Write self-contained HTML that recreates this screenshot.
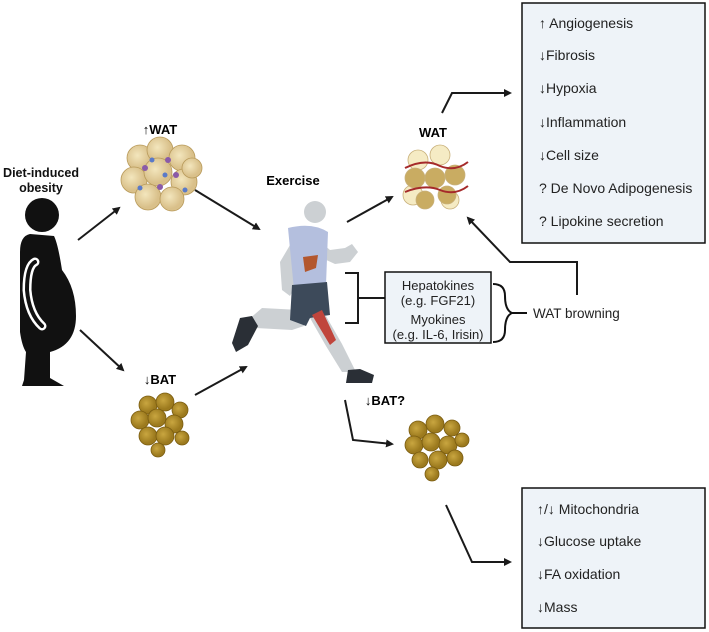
<!DOCTYPE html>
<html><head><meta charset="utf-8"><style>
body{margin:0;background:#fff;}
svg{display:block;font-family:"Liberation Sans",sans-serif;}
</style></head><body>
<svg width="709" height="632" viewBox="0 0 709 632" xmlns="http://www.w3.org/2000/svg">
<defs>
<marker id="ah" markerWidth="8" markerHeight="8" refX="6" refY="4" orient="auto" markerUnits="userSpaceOnUse"><path d="M0,0 L8,4 L0,8 z" fill="#1a1a1a"/></marker>
<radialGradient id="wg" cx="0.4" cy="0.4"><stop offset="0" stop-color="#f3e6bd"/><stop offset="1" stop-color="#d9c08a"/></radialGradient>
<radialGradient id="bg" cx="0.4" cy="0.4"><stop offset="0" stop-color="#c9a640"/><stop offset="1" stop-color="#9c7a1e"/></radialGradient>
</defs>
<!-- labels -->
<text x="41" y="177" font-size="12.5" font-weight="bold" text-anchor="middle" fill="#111" textLength="76" lengthAdjust="spacingAndGlyphs">Diet-induced</text>
<text x="41" y="192" font-size="12.5" font-weight="bold" text-anchor="middle" fill="#111">obesity</text>
<text x="160" y="134" font-size="13" font-weight="bold" text-anchor="middle">↑WAT</text>
<text x="160" y="384" font-size="13" font-weight="bold" text-anchor="middle">↓BAT</text>
<text x="293" y="185" font-size="13" font-weight="bold" text-anchor="middle">Exercise</text>
<text x="433" y="137" font-size="13" font-weight="bold" text-anchor="middle">WAT</text>
<text x="385" y="405" font-size="13" font-weight="bold" text-anchor="middle">↓BAT?</text>
<!-- person -->
<g fill="#111">
<circle cx="42" cy="215" r="17"/>
<path d="M30,234 Q20,236 20,252 L20,332 Q22,346 26,352 L24,380 L22,386 L64,386 L50,378 L50,352 Q76,345 76,316 Q76,288 62,270 Q58,244 54,236 Z"/>
</g>
<path d="M35,262 Q27,266 27,290 Q29,314 42,326" stroke="#fff" stroke-width="9" fill="none" stroke-linecap="round"/>
<path d="M35,262 Q27,266 27,290 Q29,314 42,326" stroke="#111" stroke-width="4" fill="none" stroke-linecap="round"/>
<!-- WAT cluster -->
<g stroke="#b89a5a" stroke-width="0.8" fill="url(#wg)">
<circle cx="140" cy="158" r="13"/><circle cx="160" cy="150" r="13"/><circle cx="182" cy="158" r="13"/>
<circle cx="134" cy="180" r="13"/><circle cx="158" cy="172" r="14"/><circle cx="184" cy="182" r="13"/>
<circle cx="148" cy="197" r="13"/><circle cx="172" cy="199" r="12"/><circle cx="192" cy="168" r="10"/>
</g>
<g fill="#8a5aa8"><circle cx="145" cy="168" r="3"/><circle cx="168" cy="160" r="3"/><circle cx="160" cy="187" r="3"/><circle cx="176" cy="175" r="3"/></g>
<g fill="#5a7ac8"><circle cx="152" cy="160" r="2.5"/><circle cx="140" cy="188" r="2.5"/><circle cx="185" cy="190" r="2.5"/><circle cx="165" cy="175" r="2.5"/></g>
<!-- BAT cluster left -->
<g stroke="#7a5c10" stroke-width="0.8" fill="url(#bg)">
<circle cx="148" cy="405" r="9"/><circle cx="165" cy="402" r="9"/><circle cx="180" cy="410" r="8"/>
<circle cx="140" cy="420" r="9"/><circle cx="157" cy="418" r="9"/><circle cx="174" cy="424" r="9"/>
<circle cx="148" cy="436" r="9"/><circle cx="165" cy="436" r="9"/><circle cx="182" cy="438" r="7"/><circle cx="158" cy="450" r="7"/>
</g>
<!-- WAT right -->
<g stroke="#c8b07a" stroke-width="0.8">
<circle cx="418" cy="160" r="10" fill="#f5ebc4"/><circle cx="440" cy="155" r="10" fill="#f5ebc4"/>
<circle cx="413" cy="195" r="10" fill="#f5ebc4"/><circle cx="450" cy="200" r="9" fill="#f5ebc4"/>
<circle cx="415" cy="178" r="10" fill="#c9ac62"/><circle cx="435" cy="178" r="10" fill="#c9ac62"/><circle cx="455" cy="175" r="10" fill="#c9ac62"/>
<circle cx="425" cy="200" r="9" fill="#c9ac62"/><circle cx="447" cy="195" r="9" fill="#c9ac62"/>
</g>
<path d="M405,168 Q425,158 440,166 Q455,172 468,162" stroke="#a52a2a" stroke-width="2" fill="none"/>
<path d="M405,192 Q425,184 440,190 Q455,196 468,186" stroke="#a52a2a" stroke-width="2" fill="none"/>
<!-- BAT right -->
<g stroke="#7a5c10" stroke-width="0.8" fill="url(#bg)">
<circle cx="418" cy="430" r="9"/><circle cx="435" cy="424" r="9"/><circle cx="452" cy="428" r="8"/>
<circle cx="414" cy="445" r="9"/><circle cx="431" cy="442" r="9"/><circle cx="448" cy="445" r="9"/><circle cx="462" cy="440" r="7"/>
<circle cx="420" cy="460" r="8"/><circle cx="438" cy="460" r="9"/><circle cx="455" cy="458" r="8"/><circle cx="432" cy="474" r="7"/>
</g>
<!-- runner -->
<g fill="#ccd0d3">
<circle cx="315" cy="212" r="11"/>
<path d="M318,240 L330,250 L345,248 L352,244 L358,252 L350,262 L335,264 L322,258 Z"/>
<path d="M293,240 L280,262 L282,290 L290,296 L296,285 L292,264 Z"/>
<path d="M300,310 L262,308 L248,320 L256,328 L292,330 L304,326 Z"/>
<path d="M310,318 L326,346 L342,372 L356,372 L342,344 L326,316 Z"/>
</g>
<path d="M288,228 Q312,222 328,232 L326,285 L294,290 Z" fill="#b4bfde"/>
<path d="M303,257 L318,255 L316,268 L305,272 Z" fill="#b3572e"/>
<path d="M292,285 L327,282 L330,315 L310,318 L306,326 L290,320 Z" fill="#3d4a5a"/>
<path d="M312,315 L322,310 L336,340 L330,345 Z" fill="#c0453c"/>
<path d="M240,318 L252,316 L258,326 L248,345 L236,352 L232,343 Z" fill="#2a2f36"/>
<path d="M348,370 L360,369 L374,375 L372,383 L346,383 Z" fill="#2a2f36"/>
<!-- arrows -->
<g stroke="#1a1a1a" stroke-width="2" fill="none" marker-end="url(#ah)">
<line x1="78" y1="240" x2="119" y2="208"/>
<line x1="80" y1="330" x2="123" y2="370"/>
<line x1="195" y1="190" x2="259" y2="229"/>
<line x1="195" y1="395" x2="246" y2="367"/>
<line x1="347" y1="222" x2="392" y2="197"/>
<polyline points="442,113 452,93 510,93"/>
<polyline points="577,295 577,262 510,262 468,218"/>
<polyline points="345,400 353,440 392,444"/>
<polyline points="446,505 472,562 510,562"/>
</g>
<!-- bracket runner -->
<polyline points="345,273 358,273 358,323 345,323" stroke="#1a1a1a" stroke-width="2" fill="none"/>
<line x1="358" y1="298" x2="385" y2="298" stroke="#1a1a1a" stroke-width="2"/>
<!-- middle box -->
<rect x="385" y="272" width="106" height="71" fill="#eef3f8" stroke="#111" stroke-width="1.5"/>
<g font-size="13" text-anchor="middle" fill="#222">
<text x="438" y="290">Hepatokines</text><text x="438" y="305">(e.g. FGF21)</text>
<text x="438" y="324">Myokines</text><text x="438" y="339">(e.g. IL-6, Irisin)</text>
</g>
<path d="M493,284 Q505,284 505,296 Q505,310 512,313 Q505,316 505,330 Q505,342 493,342" stroke="#111" stroke-width="2" fill="none"/>
<line x1="512" y1="313" x2="527" y2="313" stroke="#111" stroke-width="2"/>
<text x="533" y="318" font-size="13.5" fill="#222">WAT browning</text>
<!-- top right box -->
<rect x="522" y="3" width="183" height="240" fill="#eef3f8" stroke="#111" stroke-width="1.5"/>
<g font-size="14" fill="#222">
<text x="539" y="28">↑ Angiogenesis</text>
<text x="539" y="60">↓Fibrosis</text>
<text x="539" y="93">↓Hypoxia</text>
<text x="539" y="127">↓Inflammation</text>
<text x="539" y="160">↓Cell size</text>
<text x="539" y="193">? De Novo Adipogenesis</text>
<text x="539" y="226">? Lipokine secretion</text>
</g>
<!-- bottom right box -->
<rect x="522" y="488" width="183" height="140" fill="#eef3f8" stroke="#111" stroke-width="1.5"/>
<g font-size="14" fill="#222">
<text x="537" y="514">↑/↓ Mitochondria</text>
<text x="537" y="546">↓Glucose uptake</text>
<text x="537" y="579">↓FA oxidation</text>
<text x="537" y="612">↓Mass</text>
</g>
</svg>
</body></html>
